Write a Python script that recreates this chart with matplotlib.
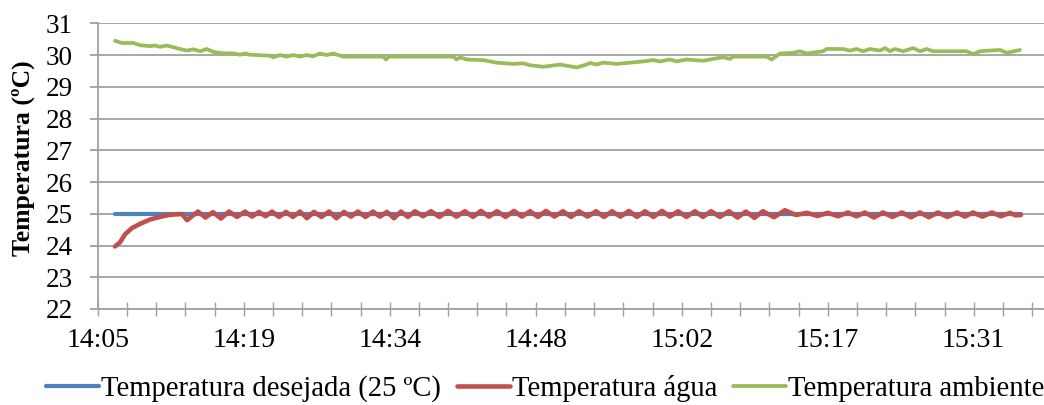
import matplotlib
matplotlib.use("Agg")
import matplotlib.pyplot as plt
from matplotlib.ticker import FixedLocator, MultipleLocator

plt.rcParams['font.family'] = ['Liberation Serif', 'DejaVu Serif']

# ---------------- data (x in minutes after 14:05) ----------------
tick_labels = ["14:05", "14:19", "14:34", "14:48", "15:02", "15:17", "15:31"]
label_step_min = 14.4          # spacing between labelled ticks
minor_step_min = 2.88          # spacing between tick marks

setpoint_t = [1.71, 91.06]
setpoint_v = [25.0, 25.0]

water_t = [1.71, 2.20, 2.69, 3.38, 4.17, 5.16, 6.14, 6.83, 7.62, 8.31, 8.81,
           9.89, 10.63, 11.37, 12.16, 12.95, 13.74, 14.53, 15.22, 15.91, 16.55,
           17.19, 17.88, 18.57, 19.26, 19.95, 20.64, 21.33, 22.07, 22.81, 23.55,
           24.29, 24.98, 25.67, 26.41, 27.15, 27.84, 28.53, 29.22, 29.91, 30.60,
           31.29, 32.08, 32.87, 33.71, 34.55, 35.38, 36.22, 37.01, 37.80, 38.59,
           39.38, 40.22, 41.06, 41.84, 42.64, 43.42, 44.21, 45.05, 45.89, 46.68,
           47.47, 48.30, 49.15, 49.93, 50.73, 51.56, 52.40, 53.19, 53.98, 54.81,
           55.66, 56.44, 57.24, 58.07, 58.91, 59.70, 60.49, 61.37, 62.27, 63.10,
           63.93, 64.77, 65.61, 66.70, 67.78, 68.87, 69.95, 70.99, 72.02, 73.01,
           73.99, 74.83, 75.67, 76.56, 77.45, 78.38, 79.32, 80.21, 81.10, 81.98,
           82.87, 83.81, 84.75, 85.53, 86.33, 87.26, 88.20, 89.08, 89.98, 90.51,
           91.06]
water_v = [23.97, 24.10, 24.35, 24.55, 24.68, 24.82, 24.90, 24.95, 24.98, 24.99, 24.80,
           25.07, 24.88, 25.05, 24.85, 25.07, 24.90, 25.07, 24.91, 25.06, 24.92,
           25.07, 24.90, 25.06, 24.90, 25.07, 24.86, 25.06, 24.90, 25.07, 24.86,
           25.06, 24.91, 25.07, 24.90, 25.07, 24.91, 25.06, 24.86, 25.07, 24.90,
           25.08, 24.92, 25.08, 24.90, 25.09, 24.91, 25.08, 24.90, 25.09, 24.91,
           25.08, 24.90, 25.09, 24.91, 25.08, 24.90, 25.09, 24.91, 25.08, 24.90,
           25.08, 24.91, 25.08, 24.90, 25.08, 24.91, 25.09, 24.90, 25.08, 24.90,
           25.09, 24.91, 25.08, 24.90, 25.08, 24.90, 25.08, 24.90, 25.08, 24.88,
           25.07, 24.87, 25.08, 24.89, 25.11, 24.96, 25.03, 24.93, 25.03, 24.92,
           25.04, 24.92, 25.04, 24.88, 25.04, 24.90, 25.04, 24.89, 25.04, 24.89,
           25.04, 24.90, 25.04, 24.91, 25.04, 24.91, 25.04, 24.92, 25.03, 24.95,
           24.96]

ambient_t = [1.71, 2.37, 3.51, 4.17, 5.16, 5.65, 6.14, 6.80, 7.30, 8.12, 8.78,
             9.43, 10.09, 10.75, 11.40, 12.23, 13.37, 14.03, 14.53, 15.02, 16.99,
             17.32, 17.98, 18.64, 19.29, 19.95, 20.61, 21.26, 21.92, 22.58, 23.23,
             24.22, 28.17, 28.43, 28.70, 35.07, 35.40, 35.73, 36.39, 38.03, 39.35,
             40.99, 41.97, 42.63, 43.94, 45.59, 47.24, 48.22, 48.55, 49.21, 49.86,
             51.18, 52.50, 53.81, 54.79, 55.45, 56.44, 57.10, 58.09, 59.72, 60.71,
             61.70, 62.36, 62.68, 65.98, 66.47, 67.29, 68.60, 69.26, 69.92, 71.56,
             71.89, 73.53, 74.19, 74.85, 75.50, 76.16, 77.15, 77.64, 78.14, 78.63,
             79.45, 80.43, 81.10, 81.76, 82.41, 85.70, 86.35, 87.01, 88.99, 89.65,
             90.96]
ambient_v = [30.45, 30.38, 30.38, 30.31, 30.28, 30.30, 30.26, 30.30, 30.26, 30.19, 30.14,
             30.18, 30.12, 30.19, 30.10, 30.06, 30.05, 30.01, 30.05, 30.01, 29.98,
             29.93, 30.00, 29.95, 30.00, 29.95, 30.00, 29.96, 30.05, 30.00, 30.05,
             29.95, 29.95, 29.86, 29.95, 29.95, 29.86, 29.93, 29.86, 29.84, 29.76,
             29.72, 29.74, 29.68, 29.63, 29.70, 29.61, 29.70, 29.75, 29.70, 29.76,
             29.72, 29.76, 29.80, 29.84, 29.80, 29.86, 29.80, 29.86, 29.82, 29.88,
             29.93, 29.88, 29.95, 29.95, 29.86, 30.05, 30.07, 30.12, 30.05, 30.12,
             30.19, 30.19, 30.14, 30.19, 30.12, 30.19, 30.14, 30.22, 30.12, 30.19,
             30.12, 30.22, 30.12, 30.19, 30.12, 30.12, 30.03, 30.12, 30.16, 30.07,
             30.16]

series_labels = ["Temperatura desejada (25 ºC)", "Temperatura água", "Temperatura ambiente"]
colors = ["#4F81BD", "#C0504D", "#9BBB59"]

# ---------------- figure ----------------
fig = plt.figure(figsize=(10.44, 4.05), dpi=100)
ax = fig.add_axes([97.7 / 1044, 1 - 309 / 405, (1044 - 97.7) / 1044, (309 - 23.3) / 405])

grid_c = "#A0A0A0"
l1, = ax.plot(setpoint_t, setpoint_v, color=colors[0], lw=3.0, solid_capstyle='round', zorder=3)
l2, = ax.plot(water_t, water_v, color=colors[1], lw=3.3, solid_joinstyle='round',
              solid_capstyle='round', zorder=4)
l3, = ax.plot(ambient_t, ambient_v, color=colors[2], lw=2.7, solid_joinstyle='round',
              solid_capstyle='round', zorder=4)

ax.set_ylim(22, 31)
ax.set_yticks(range(22, 32))
ax.set_xlim(0, (1044 - 97.7) / (146 / label_step_min))

major = [i * label_step_min for i in range(len(tick_labels))]
ax.xaxis.set_major_locator(FixedLocator(major))
ax.set_xticklabels(tick_labels)
ax.xaxis.set_minor_locator(MultipleLocator(minor_step_min))

ax.grid(axis='y', color=grid_c, lw=1.3)
ax.set_axisbelow(True)
for s in ['top', 'right']:
    ax.spines[s].set_visible(False)
for s in ['left', 'bottom']:
    ax.spines[s].set_color(grid_c)
    ax.spines[s].set_linewidth(1.3)

ax.tick_params(axis='y', direction='out', length=5.5, width=1.3, color=grid_c,
               labelsize=19.5, pad=12.5)
ax.tick_params(axis='x', which='both', direction='inout', length=9.4, width=1.0,
               color=grid_c, labelsize=20, pad=9)
ax.tick_params(axis='x', which='minor', labelbottom=False)

fig.text(0.022, 1 - 158 / 405, "Temperatura (ºC)", rotation=90, ha='center', va='center',
         fontsize=18.5, fontweight='bold')

fig.legend([l1, l2, l3], series_labels, loc='center', bbox_to_anchor=(0.5225, 0.04),
           ncol=3, frameon=False, handlelength=1.85, handletextpad=0.08,
           columnspacing=0.55, fontsize=20.6, borderaxespad=0, borderpad=0)

fig.savefig("out.png", dpi=100)
